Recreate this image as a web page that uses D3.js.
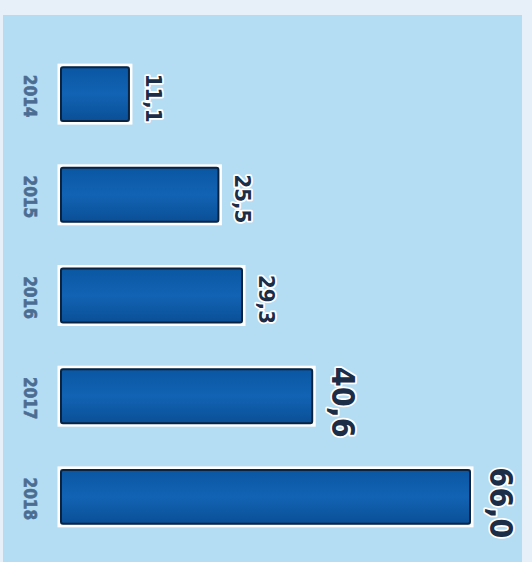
<!DOCTYPE html>
<html>
  <head>
    <meta charset="utf-8">
    <script src="https://d3js.org/d3.v7.min.js"></script>
    <style>
      body { margin: 0px; background: #e7f0f8; }
      .year {
        fill: #4b6d92;
        font-size: 17px;
        font-weight: bold;
        font-family: 'DejaVu Sans Condensed', 'DejaVu Sans', sans-serif;
        paint-order: stroke;
        stroke: #4b6d92;
        stroke-width: 0.6px;
      }
      .value {
        fill: #1c2d47;
        font-weight: bold;
        font-family: 'DejaVu Sans Condensed', 'DejaVu Sans', sans-serif;
        paint-order: stroke;
        stroke: #ffffff;
        stroke-width: 3.5px;
        stroke-linejoin: round;
      }
    </style>
  </head>
  <body>
    <script>
      const years = ['2014', '2015', '2016', '2017', '2018'];
      const values = [11.1, 25.5, 29.3, 40.6, 66.0];
      const valueLabels = ['11,1', '25,5', '29,3', '40,6', '66,0'];

      const width = 532, height = 562;
      const data = years.map((y, i) => ({ year: y, value: values[i], label: valueLabels[i] }));

      const svg = d3.select('body').append('svg')
        .attr('width', width)
        .attr('height', height);

      // light blue panel
      svg.append('rect')
        .attr('x', 3).attr('y', 15)
        .attr('width', 519).attr('height', height - 15)
        .attr('fill', '#b4dcf2');

      const defs = svg.append('defs');
      const grad = defs.append('linearGradient')
        .attr('id', 'barGrad')
        .attr('x1', 0).attr('y1', 0).attr('x2', 0).attr('y2', 1);
      grad.append('stop').attr('offset', '0%').attr('stop-color', '#0a57a3');
      grad.append('stop').attr('offset', '50%').attr('stop-color', '#1263b4');
      grad.append('stop').attr('offset', '100%').attr('stop-color', '#0a4f96');

      const xScale = d3.scaleLinear()
        .domain([0, 66])
        .range([60, 470]);

      const yScale = d3.scaleBand()
        .domain(years)
        .range([46, 545])
        .paddingInner(0.444)
        .paddingOuter(0.2);

      const bars = svg.selectAll('g.bar').data(data)
        .enter().append('g')
          .attr('class', 'bar');

      // white outline
      bars.append('rect')
        .attr('x', xScale(0) - 1)
        .attr('y', d => yScale(d.year) - 1)
        .attr('width', d => xScale(d.value) - xScale(0) + 3)
        .attr('height', yScale.bandwidth() + 2)
        .attr('fill', 'none')
        .attr('stroke', '#ffffff')
        .attr('stroke-width', 3);

      bars.append('rect')
        .attr('x', xScale(0) + 1)
        .attr('y', d => yScale(d.year) + 1)
        .attr('width', d => xScale(d.value) - xScale(0) - 1)
        .attr('height', yScale.bandwidth() - 2)
        .attr('rx', 2)
        .attr('fill', 'url(#barGrad)')
        .attr('stroke', '#0a2340')
        .attr('stroke-width', 2);

      // year labels, rotated
      svg.selectAll('text.year').data(data)
        .enter().append('text')
          .attr('class', 'year')
          .attr('text-anchor', 'middle')
          .attr('transform', d => `translate(24, ${yScale(d.year) + yScale.bandwidth() / 2 + 2}) rotate(90)`)
          .text(d => d.year);

      // value labels, rotated
      svg.selectAll('text.value').data(data)
        .enter().append('text')
          .attr('class', 'value')
          .attr('text-anchor', 'middle')
          .style('font-size', d => d.value > 35 ? '32px' : '22px')
          .attr('transform', d => {
            const big = d.value > 35;
            const x = xScale(d.value) + (big ? 20 : 17);
            const y = yScale(d.year) + yScale.bandwidth() / 2 + (big ? 6 : 4);
            return `translate(${x}, ${y}) rotate(90)`;
          })
          .text(d => d.label);
    </script>
  </body>
</html>
